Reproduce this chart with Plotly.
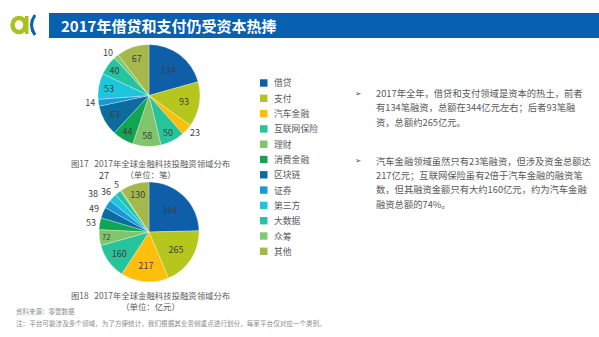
import math
import plotly.graph_objects as go

W, H = 599, 337

categories = ["借贷", "支付", "汽车金融", "互联网保险", "理财", "消费金融",
              "区块链", "证券", "第三方", "大数据", "众筹", "其他"]
deal_counts = [134, 93, 23, 50, 58, 44, 63, 14, 53, 40, 10, 67]
amounts_yi = [344, 265, 217, 160, 72, 53, 49, 38, 36, 27, 5, 130]
colors = ["#0f5ea8", "#b5c61c", "#fdbf0b", "#27c39b", "#80c56b", "#10a553",
          "#0b6d9e", "#1a97d6", "#1dc6dc", "#24c4a0", "#80ca70", "#a5b84b"]

title_text = "2017年借贷和支付仍受资本热捧"
cap1 = "图17   2017年全球金融科技投融资领域分布"
unit1 = "（单位：笔）"
cap2 = "图18   2017年全球金融科技投融资领域分布"
unit2 = "（单位：亿元）"
source_text = "资料来源：零壹数据"
note_text = "注：平台可能涉及多个领域，为了方便统计，我们根据其业务侧重点进行划分，每家平台仅对应一个类别。"
bullet_lines = [
    ["2017年全年，借贷和支付领域是资本的热土，前者",
     "有134笔融资，总额在344亿元左右；后者93笔融",
     "资，总额约265亿元。"],
    ["汽车金融领域虽然只有23笔融资，但涉及资金总额达",
     "217亿元；互联网保险虽有2倍于汽车金融的融资笔",
     "数，但其融资金额只有大约160亿元，约为汽车金融",
     "融资总额的74%。"],
]

FONT = "Noto Sans CJK SC"
TXT = "#595959"
LBL = "#3f3f3f"


def X(px):
    return px / W


def Y(py):
    return 1 - py / H


fig = go.Figure()

# pie 1 geometry (pixels)
p1_cx, p1_cy, p1_r = 149, 95.5, 51
fig.add_trace(go.Pie(
    labels=categories, values=deal_counts, sort=False, direction="clockwise",
    marker=dict(colors=colors, line=dict(color="white", width=0.3)),
    textinfo="value",
    textposition=["outside" if v < 30 else "inside" for v in deal_counts],
    insidetextorientation="horizontal",
    textfont=dict(family=FONT, size=9, color=LBL),
    domain=dict(x=[X(p1_cx - p1_r), X(p1_cx + p1_r)],
                y=[Y(p1_cy + p1_r), Y(p1_cy - p1_r)]),
    showlegend=False, hoverinfo="label+value",
))

# pie 2 geometry (pixels)
p2_cx, p2_cy, p2_r = 149, 232, 50
inside2 = [v >= 60 for v in amounts_yi]
fig.add_trace(go.Pie(
    labels=categories, values=amounts_yi, sort=False, direction="clockwise",
    marker=dict(colors=colors, line=dict(color="white", width=0.3)),
    text=[str(v) for v in amounts_yi], textinfo="text",
    texttemplate=[str(v) if ins else "" for v, ins in zip(amounts_yi, inside2)],
    textposition=["inside" if ins else "none" for ins in inside2],
    insidetextorientation="horizontal",
    textfont=dict(family=FONT, size=9, color=LBL),
    domain=dict(x=[X(p2_cx - p2_r), X(p2_cx + p2_r)],
                y=[Y(p2_cy + p2_r), Y(p2_cy - p2_r)]),
    showlegend=False, hoverinfo="label+value",
))

shapes = []
annotations = []

# outside labels for small slices of pie 2, placed at each slice's mid-angle
label_dist = {"消费金融": 59, "区块链": 60, "证券": 68, "第三方": 59, "大数据": 72, "众筹": 57}
total2 = sum(amounts_yi)
cum = 0
for cat, v, ins in zip(categories, amounts_yi, inside2):
    mid = (cum + v / 2) / total2 * 2 * math.pi
    cum += v
    if ins:
        continue
    d = label_dist.get(cat, p2_r + 9)
    lx = p2_cx + d * math.sin(mid)
    ly = p2_cy - d * math.cos(mid)
    annotations.append(dict(xref="paper", yref="paper", x=X(lx), y=Y(ly),
                            xanchor="center", yanchor="middle", showarrow=False,
                            text=str(v), font=dict(family=FONT, size=9, color=LBL)))

# header bar
shapes.append(dict(type="rect", xref="paper", yref="paper",
                   x0=X(49), x1=X(599), y0=Y(38), y1=Y(13),
                   fillcolor="#0760b0", line=dict(width=0), layer="below"))
annotations.append(dict(xref="paper", yref="paper", x=X(59), y=Y(25.5),
                        xanchor="left", yanchor="middle", showarrow=False,
                        text="<b>" + title_text + "</b>",
                        font=dict(family=FONT, size=15, color="white")))
# logo
shapes.append(dict(type="circle", xref="paper", yref="paper",
                   x0=X(12.5), x1=X(25.5), y0=Y(32), y1=Y(18),
                   line=dict(color="#a9c21d", width=4.5)))
shapes.append(dict(type="rect", xref="paper", yref="paper",
                   x0=X(25), x1=X(28.5), y0=Y(34), y1=Y(16),
                   fillcolor="#a9c21d", line=dict(width=0)))
shapes.append(dict(type="path", xref="paper", yref="paper",
                   path=f"M {X(35)} {Y(15)} Q {X(28)} {Y(25)} {X(35)} {Y(35)}",
                   line=dict(color="#0760b0", width=3)))

# legend (custom, compact spacing)
for i, (cat, col) in enumerate(zip(categories, colors)):
    yc = 83 + i * 15.3
    shapes.append(dict(type="rect", xref="paper", yref="paper",
                       x0=X(260), x1=X(267.5), y0=Y(yc + 3.7), y1=Y(yc - 3.7),
                       fillcolor=col, line=dict(width=0)))
    annotations.append(dict(xref="paper", yref="paper", x=X(272), y=Y(yc),
                            xanchor="left", yanchor="middle", showarrow=False,
                            text=cat, font=dict(family=FONT, size=8.8, color=TXT)))

# captions (two lines in one text block)
for cap, unit, yc in [(cap1, unit1, 168), (cap2, unit2, 300)]:
    annotations.append(dict(xref="paper", yref="paper", x=X(150), y=Y(yc),
                            xanchor="center", yanchor="middle", showarrow=False,
                            align="center", text=cap + "<br>" + unit,
                            font=dict(family=FONT, size=8.4, color=TXT)))

# bullets
starts = [93, 160.5]
for blk, y0 in zip(bullet_lines, starts):
    annotations.append(dict(xref="paper", yref="paper", x=X(353), y=Y(y0),
                            xanchor="left", yanchor="middle", showarrow=False,
                            text="➢", font=dict(family="DejaVu Sans", size=7.5, color="#404040")))
    for j, line in enumerate(blk):
        annotations.append(dict(xref="paper", yref="paper", x=X(374), y=Y(y0 + j * 14.4),
                                xanchor="left", yanchor="middle", showarrow=False,
                                text=line, font=dict(family=FONT, size=9.3, color=TXT)))

# source / note
annotations.append(dict(xref="paper", yref="paper", x=X(14), y=Y(311),
                        xanchor="left", yanchor="middle", showarrow=False,
                        text=source_text, font=dict(family=FONT, size=6.5, color="#8c8c8c")))
annotations.append(dict(xref="paper", yref="paper", x=X(14), y=Y(323),
                        xanchor="left", yanchor="middle", showarrow=False,
                        text=note_text, font=dict(family=FONT, size=6.6, color="#8c8c8c")))

fig.update_layout(
    width=W, height=H, margin=dict(l=0, r=0, t=0, b=0),
    paper_bgcolor="white", plot_bgcolor="white",
    shapes=shapes, annotations=annotations,
    font=dict(family=FONT),
)

fig.write_html("out.html")
